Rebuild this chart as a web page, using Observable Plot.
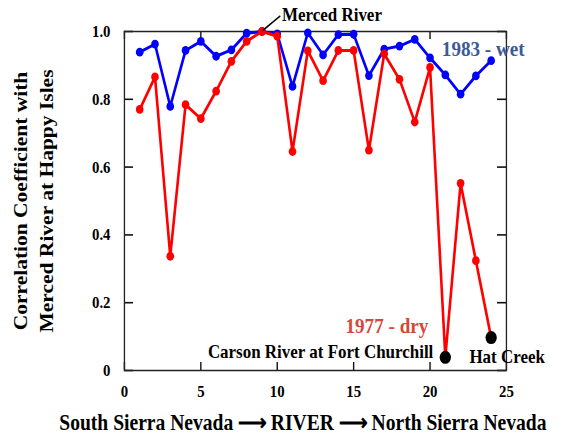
<!DOCTYPE html>
<html>
<head>
<meta charset="utf-8">
<script src="https://cdn.jsdelivr.net/npm/d3@7"></script>
<script src="https://cdn.jsdelivr.net/npm/@observablehq/plot@0.6"></script>
<style>
  html, body { margin: 0; padding: 0; background: #fff; }
  #chart svg { display: block; }
  #chart svg text { font-family: "Liberation Serif", "Times New Roman", serif; font-weight: bold; }
</style>
</head>
<body>
<div id="chart"></div>
<script>
// Gauging sites ordered south to north along the Sierra Nevada
const site = [1, 2, 3, 4, 5, 6, 7, 8, 9, 10, 11, 12, 13, 14, 15, 16, 17, 18, 19, 20, 21, 22, 23, 24];

// Correlation of daily flow with the Merced River at Happy Isles
const wet1983 = [0.939, 0.963, 0.779, 0.944, 0.971, 0.927, 0.946, 0.995, 1.0, 0.993, 0.838, 0.996,
                 0.931, 0.991, 0.992, 0.870, 0.948, 0.957, 0.977, 0.922, 0.872, 0.815, 0.869, 0.914];
const dry1977 = [0.770, 0.866, 0.337, 0.784, 0.743, 0.824, 0.912, 0.971, 1.0, 0.986, 0.646, 0.943,
                 0.855, 0.944, 0.944, 0.650, 0.934, 0.859, 0.733, 0.894, 0.039, 0.552, 0.324, 0.097];

const xTicks = [0, 5, 10, 15, 20, 25];
const yTicks = [0, 0.2, 0.4, 0.6, 0.8, 1.0];

const referenceSite = 9;   // Merced River at Happy Isles
const carsonSite = 21;     // Carson River at Fort Churchill
const hatCreekSite = 24;   // Hat Creek

const seriesLabels = ["1983 - wet", "1977 - dry"];
const yTitle = "Correlation Coefficient with\nMerced River at Happy Isles";
const xTitle = "South Sierra Nevada \u27F6 RIVER \u27F6 North Sierra Nevada";

// Leader line from the reference site up to its label
const mercedLeader = [{x1: 9.05, y1: 1.003, x2: 10.2, y2: 1.046}];

const rows = site.map((s, i) => ({site: s, wet: wet1983[i], dry: dry1977[i]}));
const at = (s) => rows.filter(d => d.site === s);

// The drawing is laid out on a wider canvas and squeezed horizontally
// into the page, giving the narrow Times lettering of the original figure.
const squeeze = 0.87;
const W = 564, H = 446;
const LW = W / squeeze;

const xDomain = [0, 25], yDomain = [0, 1];
const margin = {left: 124 / squeeze, right: (W - 506) / squeeze, top: 31, bottom: 76};
const frameW = LW - margin.left - margin.right;
const frameH = H - margin.top - margin.bottom;

// inward tick length, in pixels, turned into data units of each axis
const tickPx = {x: 8, y: 9 / squeeze};
const xTickLen = (xDomain[1] - xDomain[0]) * tickPx.y / frameW;
const yTickLen = (yDomain[1] - yDomain[0]) * tickPx.x / frameH;

const serif = "'Liberation Serif', 'Times New Roman', serif";
const blue = "#0000ff", red = "#ff0000";
const txt = {fontFamily: serif, fontWeight: "bold"};
const tickStyle = {stroke: "#111", strokeWidth: 1.6};

const plot = Plot.plot({
  width: LW,
  height: H,
  marginLeft: margin.left,
  marginRight: margin.right,
  marginTop: margin.top,
  marginBottom: margin.bottom,
  style: {fontFamily: serif, fontWeight: "bold", fontSize: "17px", color: "#000", background: "#fff"},
  x: {domain: xDomain},
  y: {domain: yDomain},
  marks: [
    // inward ticks on all four sides
    Plot.ruleX(xTicks, {x: d => d, y1: yDomain[0], y2: yDomain[0] + yTickLen, ...tickStyle}),
    Plot.ruleX(xTicks, {x: d => d, y1: yDomain[1] - yTickLen, y2: yDomain[1], ...tickStyle}),
    Plot.ruleY(yTicks, {y: d => d, x1: xDomain[0], x2: xDomain[0] + xTickLen, ...tickStyle}),
    Plot.ruleY(yTicks, {y: d => d, x1: xDomain[1] - xTickLen, x2: xDomain[1], ...tickStyle}),
    // tick labels
    Plot.axisX(xTicks, {anchor: "bottom", tickSize: 0, tickPadding: 14, label: null,
      tickFormat: d => String(d), fontSize: 17, ...txt}),
    Plot.axisY(yTicks, {anchor: "left", tickSize: 0, tickPadding: 16, label: null,
      tickFormat: d => d === 0 ? "0" : d.toFixed(1), fontSize: 17, ...txt}),
    Plot.frame({stroke: "#222", strokeWidth: 1.5}),

    // 1983 wet year
    Plot.line(rows, {x: "site", y: "wet", stroke: blue, strokeWidth: 3}),
    Plot.dot(rows, {x: "site", y: "wet", fill: blue, r: 4.4}),
    // 1977 dry year
    Plot.line(rows, {x: "site", y: "dry", stroke: red, strokeWidth: 3}),
    Plot.dot(rows, {x: "site", y: "dry", fill: red, r: 4.4}),
    // sites singled out in the dry year
    Plot.dot([...at(carsonSite), ...at(hatCreekSite)], {x: "site", y: "dry", fill: "#000", r: 6.5}),

    // annotations
    Plot.link(mercedLeader, {x1: "x1", y1: "y1", x2: "x2", y2: "y2", stroke: "#000", strokeWidth: 1.6}),
    Plot.text(at(referenceSite), {x: "site", y: "wet", text: () => "Merced River",
      textAnchor: "start", dx: 23, dy: -17, fontSize: 19.5, fill: "#000", ...txt}),
    Plot.text(at(hatCreekSite), {x: "site", y: "wet", text: () => seriesLabels[0],
      textAnchor: "start", dx: -56.7, dy: -12, fontSize: 22, fill: "#3d5a98", ...txt}),
    Plot.text(at(carsonSite), {x: "site", y: "dry", text: () => seriesLabels[1],
      textAnchor: "end", dx: -19.5, dy: -31.7, fontSize: 22, fill: "#d6463a", ...txt}),
    Plot.text(at(carsonSite), {x: "site", y: "dry", text: () => "Carson River at Fort Churchill",
      textAnchor: "end", dx: -13.8, dy: -5.9, fontSize: 19.5, fill: "#000", ...txt}),
    Plot.text(at(hatCreekSite), {x: "site", y: "dry", text: () => "Hat Creek",
      textAnchor: "start", dx: -25, dy: 18.8, fontSize: 19.5, fill: "#000", ...txt}),

    // axis titles
    Plot.text([yTitle], {frameAnchor: "left", text: d => d, rotate: -90, dx: -107,
      textAnchor: "middle", lineAnchor: "middle",
      fontSize: 21.5, lineHeight: 1.43, fill: "#000", ...txt}),
    Plot.text([xTitle], {frameAnchor: "bottom", text: d => d, dx: -14.4, dy: 59,
      textAnchor: "middle", fontSize: 22.5, fill: "#000", ...txt})
  ]
});

plot.setAttribute("width", W);
plot.setAttribute("height", H);
plot.setAttribute("preserveAspectRatio", "none");
plot.style.width = W + "px";
plot.style.height = H + "px";
plot.style.maxWidth = "none";
document.getElementById("chart").appendChild(plot);
</script>
</body>
</html>
